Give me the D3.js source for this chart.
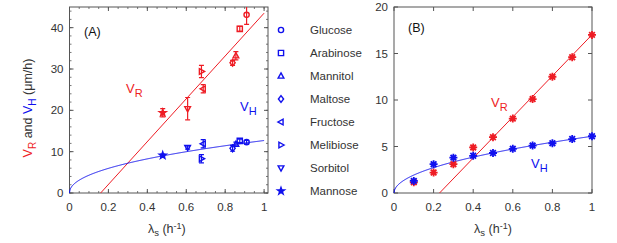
<!DOCTYPE html>
<html>
<head>
<meta charset="utf-8">
<script src="https://cdn.jsdelivr.net/npm/d3@7"></script>
<style>
  body { margin: 0; background: #fff; }
  svg text { font-family: "Liberation Sans", Arial, sans-serif; }
</style>
</head>
<body>
<svg id="chart" width="617" height="243"></svg>
<script>
// Panel A data: one point per sugar
const sugars = ['Glucose', 'Arabinose', 'Mannitol', 'Maltose', 'Fructose', 'Melibiose', 'Sorbitol', 'Mannose'];
const symbols = ['circle', 'square', 'triUp', 'diamond', 'triLeft', 'triRight', 'triDown', 'star'];
const lambdaA = [0.91, 0.875, 0.855, 0.838, 0.687, 0.678, 0.607, 0.479];
const vrA = [43.1, 39.7, 33.2, 31.5, 25.2, 29.4, 20.4, 19.4];
const vrErrA = [2.3, 0.6, 1.0, 0.6, 1.0, 1.5, 2.7, 1.0];
const vhA = [12.3, 12.6, 11.8, 10.8, 11.9, 8.3, 11.0, 9.1];
const vhErrA = [0.4, 0.4, 0.5, 0.7, 1.0, 1.0, 0.4, 0.3];

// Panel B data: simulated growth rates
const lambdaB = [0.1, 0.2, 0.3, 0.4, 0.5, 0.6, 0.7, 0.8, 0.9, 1.0];
const vrB = [1.15, 2.2, 3.1, 4.9, 6.0, 8.0, 10.1, 12.5, 14.6, 17.0];
const vhB = [1.3, 3.1, 3.8, 4.0, 4.3, 4.75, 5.1, 5.35, 5.8, 6.1];

// fitted model parameters (V_R linear, V_H power law)
const fitA = { vrSlope: 51.8, vrX0: 0.16, vhCoef: 12.7, vhExp: 0.47 };
const fitB = { vrSlope: 22.1, vrX0: 0.23, vhCoef: 6.1, vhExp: 0.5 };

const xTicks = [0, 0.2, 0.4, 0.6, 0.8, 1];
const yTicksA = [0, 10, 20, 30, 40];
const yTicksB = [0, 5, 10, 15, 20];

const RED = '#ee1c24';
const BLUE = '#1010ee';
const INK = '#333';
const BOX = '#555';

const svg = d3.select('#chart');

// marker paths centred at 0,0
function markerPath(type, r) {
  const p = d3.path();
  if (type === 'circle') { p.moveTo(r, 0); p.arc(0, 0, r, 0, 2 * Math.PI); }
  else if (type === 'square') { p.rect(-r, -r, 2 * r, 2 * r); }
  else if (type === 'diamond') { p.moveTo(0, -r * 1.3); p.lineTo(r, 0); p.lineTo(0, r * 1.3); p.lineTo(-r, 0); p.closePath(); }
  else if (type === 'triUp') { p.moveTo(0, -r * 1.2); p.lineTo(r * 1.1, r * 0.8); p.lineTo(-r * 1.1, r * 0.8); p.closePath(); }
  else if (type === 'triDown') { p.moveTo(0, r * 1.2); p.lineTo(r * 1.1, -r * 0.8); p.lineTo(-r * 1.1, -r * 0.8); p.closePath(); }
  else if (type === 'triLeft') { p.moveTo(-r * 1.2, 0); p.lineTo(r * 0.8, -r * 1.1); p.lineTo(r * 0.8, r * 1.1); p.closePath(); }
  else if (type === 'triRight') { p.moveTo(r * 1.2, 0); p.lineTo(-r * 0.8, -r * 1.1); p.lineTo(-r * 0.8, r * 1.1); p.closePath(); }
  else if (type === 'star') {
    for (let i = 0; i < 10; i++) {
      const a = -Math.PI / 2 + i * Math.PI / 5;
      const rr = i % 2 === 0 ? r * 1.4 : r * 0.55;
      if (i === 0) p.moveTo(rr * Math.cos(a), rr * Math.sin(a));
      else p.lineTo(rr * Math.cos(a), rr * Math.sin(a));
    }
    p.closePath();
  }
  return p.toString();
}

function asteriskPath(r) {
  const p = d3.path();
  for (let i = 0; i < 4; i++) {
    const a = i * Math.PI / 4;
    p.moveTo(-r * Math.cos(a), -r * Math.sin(a));
    p.lineTo(r * Math.cos(a), r * Math.sin(a));
  }
  return p.toString();
}

function drawFrame(g, x, y, yTicks, yMinor, xMinor) {
  const [x0, x1] = x.range();
  const [y0, y1] = y.range();
  // minor ticks
  yMinor.forEach(v => {
    g.append('line').attr('x1', x0).attr('x2', x0 + 2).attr('y1', y(v)).attr('y2', y(v)).attr('stroke', BOX).attr('stroke-width', 0.8);
    g.append('line').attr('x1', x1).attr('x2', x1 - 2).attr('y1', y(v)).attr('y2', y(v)).attr('stroke', BOX).attr('stroke-width', 0.8);
  });
  xMinor.forEach(v => {
    g.append('line').attr('x1', x(v)).attr('x2', x(v)).attr('y1', y0).attr('y2', y0 - 2).attr('stroke', BOX).attr('stroke-width', 0.8);
    g.append('line').attr('x1', x(v)).attr('x2', x(v)).attr('y1', y1).attr('y2', y1 + 2).attr('stroke', BOX).attr('stroke-width', 0.8);
  });
  // major ticks inward on all four sides
  yTicks.forEach(v => {
    g.append('line').attr('x1', x0).attr('x2', x0 + 4).attr('y1', y(v)).attr('y2', y(v)).attr('stroke', BOX);
    g.append('line').attr('x1', x1).attr('x2', x1 - 4).attr('y1', y(v)).attr('y2', y(v)).attr('stroke', BOX);
    g.append('text').attr('x', x0 - 6).attr('y', y(v) + 4).attr('text-anchor', 'end')
      .attr('font-size', 11.5).attr('fill', INK).text(v);
  });
  xTicks.forEach(v => {
    g.append('line').attr('x1', x(v)).attr('x2', x(v)).attr('y1', y0).attr('y2', y0 - 4).attr('stroke', BOX);
    g.append('line').attr('x1', x(v)).attr('x2', x(v)).attr('y1', y1).attr('y2', y1 + 4).attr('stroke', BOX);
    g.append('text').attr('x', x(v)).attr('y', y0 + 18).attr('text-anchor', 'middle')
      .attr('font-size', 11.5).attr('fill', INK).text(v);
  });
  g.append('rect').attr('x', x0).attr('y', y1).attr('width', x1 - x0).attr('height', y0 - y1)
    .attr('fill', 'none').attr('stroke', BOX).attr('stroke-width', 1);

  // x axis title
  const t = g.append('text').attr('x', (x(0) + x(1)) / 2).attr('y', y0 + 40)
    .attr('text-anchor', 'middle').attr('font-size', 12.5).attr('fill', INK);
  t.append('tspan').text('λ');
  t.append('tspan').attr('baseline-shift', '-30%').attr('font-size', 9.5).text('s');
  t.append('tspan').text(' (h');
  t.append('tspan').attr('baseline-shift', '40%').attr('font-size', 9).text('-1');
  t.append('tspan').text(')');
}

function vLabel(g, x, y, sub, color) {
  const t = g.append('text').attr('x', x).attr('y', y).attr('font-size', 13).attr('fill', color);
  t.append('tspan').text('V');
  t.append('tspan').attr('baseline-shift', '-35%').attr('font-size', 11).text(sub);
}

function fitCurves(g, x, y, fit, clipId) {
  const lineR = d3.line().x(d => x(d)).y(d => y(fit.vrSlope * (d - fit.vrX0)));
  g.append('path').datum([fit.vrX0, 1]).attr('d', lineR)
    .attr('fill', 'none').attr('stroke', RED).attr('stroke-width', 1)
    .attr('clip-path', `url(#${clipId})`);
  const xs = d3.range(0, 1.0001, 0.0025);
  const lineH = d3.line().x(d => x(d)).y(d => y(fit.vhCoef * Math.pow(d, fit.vhExp)));
  g.append('path').datum(xs).attr('d', lineH)
    .attr('fill', 'none').attr('stroke', BLUE).attr('stroke-width', 1);
}

function addClip(id, x, y) {
  svg.append('clipPath').attr('id', id).append('rect')
    .attr('x', x.range()[0]).attr('y', y.range()[1])
    .attr('width', x.range()[1] - x.range()[0]).attr('height', y.range()[0] - y.range()[1]);
}

// ---------- Panel A ----------
const xA = d3.scaleLinear().domain([0, 1.02]).range([69.5, 268]);
const yA = d3.scaleLinear().domain([0, 45]).range([193, 7]);
addClip('clipA', xA, yA);
const gA = svg.append('g');
drawFrame(gA, xA, yA, yTicksA, d3.range(0, 45, 2), d3.range(0, 1.02, 0.05));
fitCurves(gA, xA, yA, fitA, 'clipA');

const ptsA = sugars.map((s, i) => ({ s, sym: symbols[i], x: lambdaA[i], vr: vrA[i], er: vrErrA[i], vh: vhA[i], eh: vhErrA[i] }));

function errorBars(key, errKey, color) {
  const eb = gA.append('g').attr('clip-path', 'url(#clipA)')
    .selectAll('g').data(ptsA).join('g')
    .attr('stroke', color).attr('stroke-width', 1.2);
  eb.append('line').attr('x1', d => xA(d.x)).attr('x2', d => xA(d.x))
    .attr('y1', d => yA(d[key] - d[errKey])).attr('y2', d => yA(d[key] + d[errKey]));
  [-1, 1].forEach(sgn => {
    eb.append('line').attr('x1', d => xA(d.x) - 2.5).attr('x2', d => xA(d.x) + 2.5)
      .attr('y1', d => yA(d[key] + sgn * d[errKey])).attr('y2', d => yA(d[key] + sgn * d[errKey]));
  });
  gA.append('g').selectAll('path').data(ptsA).join('path')
    .attr('d', d => markerPath(d.sym, 2.6))
    .attr('transform', d => `translate(${xA(d.x)},${yA(d[key])})`)
    .attr('fill', d => d.sym === 'star' ? color : 'none')
    .attr('stroke', color).attr('stroke-width', 1.4);
}
errorBars('vr', 'er', RED);
errorBars('vh', 'eh', BLUE);

gA.append('text').attr('x', 84).attr('y', 36).attr('font-size', 12.5).attr('fill', '#111').text('(A)');
vLabel(gA, 126, 93, 'R', RED);
vLabel(gA, 240, 111, 'H', BLUE);

// y axis title
const yt = svg.append('text').attr('transform', 'translate(32,108) rotate(-90)')
  .attr('text-anchor', 'middle').attr('font-size', 12.5).attr('fill', INK);
yt.append('tspan').attr('fill', RED).text('V');
yt.append('tspan').attr('fill', RED).attr('baseline-shift', '-35%').attr('font-size', 10).text('R');
yt.append('tspan').text(' and ');
yt.append('tspan').attr('fill', BLUE).text('V');
yt.append('tspan').attr('fill', BLUE).attr('baseline-shift', '-35%').attr('font-size', 10).text('H');
yt.append('tspan').text(' (μm/h)');

// ---------- Legend ----------
const leg = svg.append('g').selectAll('g').data(sugars).join('g')
  .attr('transform', (d, i) => `translate(281,${30 + i * 23})`);
leg.append('path').attr('d', (d, i) => markerPath(symbols[i], 2.6))
  .attr('fill', (d, i) => symbols[i] === 'star' ? BLUE : 'none')
  .attr('stroke', BLUE).attr('stroke-width', 1.4);
leg.append('text').attr('x', 29).attr('y', 4).attr('font-size', 11.5).attr('fill', INK).text(d => d);

// ---------- Panel B ----------
const xB = d3.scaleLinear().domain([0, 1]).range([394, 592]);
const yB = d3.scaleLinear().domain([0, 20]).range([193, 7]);
addClip('clipB', xB, yB);
const gB = svg.append('g');
drawFrame(gB, xB, yB, yTicksB, [], []);
fitCurves(gB, xB, yB, fitB, 'clipB');

[[vrB, RED], [vhB, BLUE]].forEach(([vals, color]) => {
  gB.append('g').selectAll('path').data(lambdaB.map((l, i) => [l, vals[i]])).join('path')
    .attr('d', asteriskPath(4))
    .attr('transform', d => `translate(${xB(d[0])},${yB(d[1])})`)
    .attr('fill', 'none').attr('stroke', color).attr('stroke-width', 1.8);
});

gB.append('text').attr('x', 408).attr('y', 32).attr('font-size', 12.5).attr('fill', '#111').text('(B)');
vLabel(gB, 491, 107, 'R', RED);
vLabel(gB, 531, 168, 'H', BLUE);
</script>
</body>
</html>
